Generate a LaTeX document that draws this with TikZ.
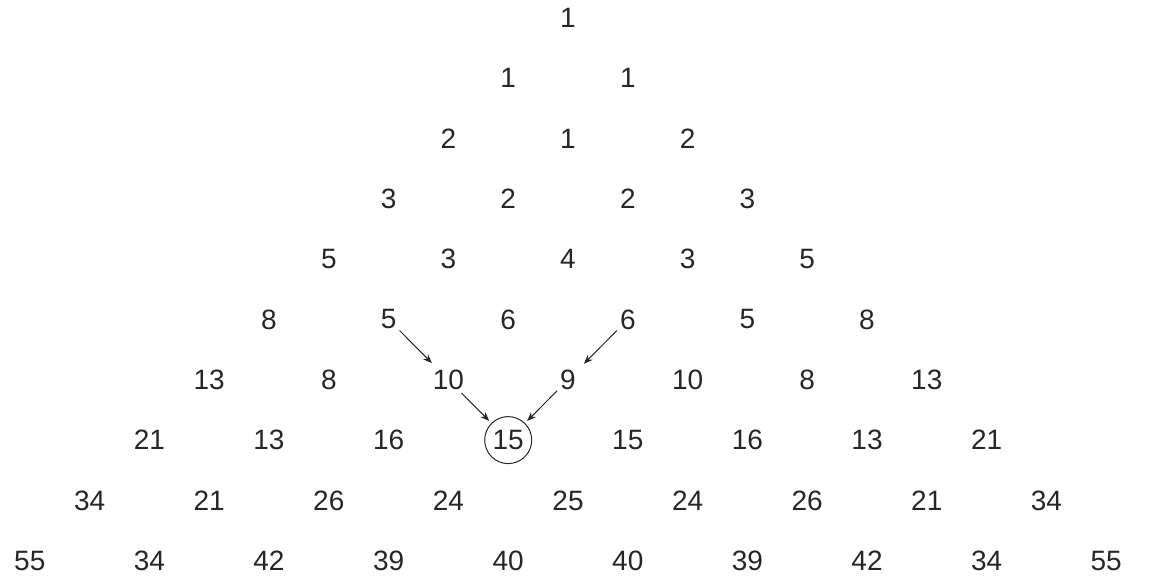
\documentclass[tikz,border=0pt]{standalone}
\usepackage{fontspec}
\setmainfont{Liberation Sans}
\usetikzlibrary{arrows.meta}
\def\skipmark{X}
\begin{document}
\begin{tikzpicture}[x=1pt,y=-1pt,
  num/.style={font=\fontsize{28}{28}\selectfont, inner sep=3pt, text=black!85},
  ringed/.style={num, circle, draw=black!85, line width=1pt, minimum size=47pt, inner sep=0pt},
  arr/.style={-{Stealth[length=9pt,width=7pt]}, line width=1pt, draw=black!85}]
\useasboundingbox (0,0) rectangle (1176,580);
\foreach \row [count=\r from 0] in {{1},{1,1},{2,1,2},{3,2,2,3},{5,3,4,3,5},{8,5,6,6,5,8},{13,8,10,9,10,8,13},{21,13,16,X,15,16,13,21},{34,21,26,24,25,24,26,21,34},{55,34,42,39,40,40,39,42,34,55}}
  \foreach \v [count=\k from 0] in \row {
    \ifx\v\skipmark\else
      \node[num] (n-\r-\k) at ({568+(2*\k-\r)*59.8}, {18+\r*60.3}) {\v};
    \fi
  }
\node[ringed] (n-7-3) at ({568+(6-7)*59.8}, {18+7*60.3}) {15};
\draw[arr, shorten >=5pt] (n-5-1) -- (n-6-2);
\draw[arr, shorten >=7pt] (n-5-3) -- (n-6-3);
\draw[arr, shorten >=3pt] (n-6-2) -- (n-7-3);
\draw[arr, shorten >=3pt] (n-6-3) -- (n-7-3);
\end{tikzpicture}
\end{document}
